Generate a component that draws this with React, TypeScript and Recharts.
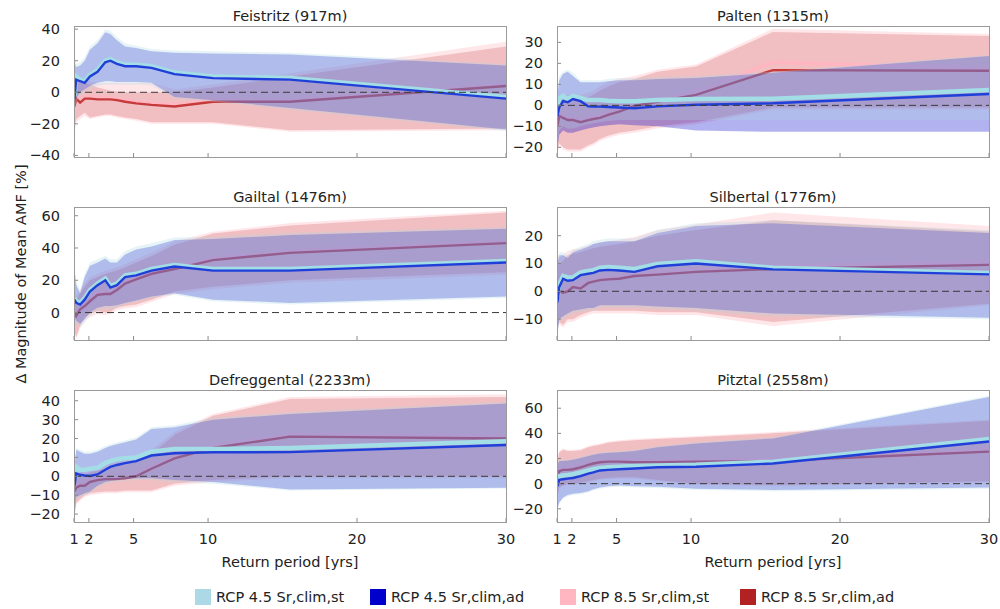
import React from 'react';
import { ComposedChart, Area, Line, XAxis, YAxis, ReferenceLine } from 'recharts';

const FONT = "'DejaVu Sans', sans-serif";

// Return periods (yrs) of the plotted points
const X_VALUES = [1.03, 1.15, 1.41, 1.72, 2.07, 2.58, 3.1, 3.44, 3.88, 4.43, 5.17, 6.2, 7.75, 10.33, 15.5, 30];
const X_TICKS = [1, 2, 5, 10, 20, 30];
const LEGEND_LABELS = ['RCP 4.5 Sr,clim,st', 'RCP 4.5 Sr,clim,ad', 'RCP 8.5 Sr,clim,st', 'RCP 8.5 Sr,clim,ad'];
const SERIES_COLORS = ['#add8e6', '#0000cd', '#ffb6c1', '#b22222'];
const Y_LABEL = 'Δ Magnitude of Mean AMF [%]';
const X_LABEL = 'Return period [yrs]';

// ---------- Feistritz (917m)
const FEI_S45_LO = [-12, -6, -2, 0, 2, 4, 5, 5, 5, 5, 5, 4.5, -4, -6, -11, -24.5];
const FEI_S45_MID = [-2, 10, 8, 7, 11, 14, 20, 21, 19, 17.5, 17.5, 16.5, 12.5, 10, 9, -3];
const FEI_S45_HI = [22, 18, 19, 22, 29, 33, 40, 39, 35, 31, 29.5, 27.5, 26.5, 26, 25, 18];
const FEI_A45_LO = [-10, -4, 0, 2, 4, 6, 7, 7, 6.5, 6.5, 6.5, 6, -3, -5, -10, -23.5];
const FEI_A45_MID = [-4, 8, 7, 6, 10, 13, 19, 20, 18, 16.5, 16.5, 15.5, 11.5, 9, 8, -4];
const FEI_A45_HI = [19, 16, 17, 20, 27, 31, 38, 37, 33, 29, 28, 26, 25, 24.5, 24, 17];
const FEI_S85_LO = [-26, -19, -17, -15, -17, -16, -15, -15, -16, -17, -18, -20, -20, -20, -25, -24];
const FEI_S85_MID = [-8, -3, -5.5, -3, -3, -3.5, -3.5, -4, -4.5, -5, -6, -7, -8, -5, -5, 5];
const FEI_S85_HI = [5, 9, 9, 8, 7, 6, 6, 6, 6, 6, 6, 6, 2, 5, 12, 32];
const FEI_A85_LO = [-24, -17, -15, -13, -16, -15, -14, -14, -15, -16, -17, -19, -19, -19, -24, -23];
const FEI_A85_MID = [-9, -4, -6.5, -4, -4, -4.5, -4.5, -4.5, -5, -6, -7, -8, -9, -6, -6, 4];
const FEI_A85_HI = [3, 7, 7, 6, 5, 3, 2, 1, 0.5, 0, 0, 0, 0, 3, 10, 29];

// ---------- Palten (1315m)
const PAL_S45_LO = [-18, -12, -10, -11, -11, -10, -9, -8.5, -8, -7.5, -7, -7, -7, -7, -7, -7];
const PAL_S45_MID = [0, 3, 4.5, 3, 4.5, 3.5, 2.5, 2.5, 2.5, 2.2, 2, 2, 2.5, 3, 3.2, 7.3];
const PAL_S45_HI = [7, 14, 16, 17, 15.5, 12, 12, 12, 12, 12.5, 13, 13, 13.5, 14, 16, 24];
const PAL_A45_LO = [-20, -14, -12, -13, -13, -12, -11, -10.5, -10, -9.5, -9, -9.5, -10, -12, -12.6, -12.6];
const PAL_A45_MID = [-5, -1, 2, 1.5, 3, 2, -0.5, -0.6, -0.6, -0.8, -1, -1.4, -0.5, 0.3, 1, 5.4];
const PAL_A45_HI = [5, 12, 15, 16, 14, 11, 11, 11, 11, 11.5, 12, 12, 12.5, 13, 15.5, 23.5];
const PAL_S85_LO = [-23, -19, -21, -22, -22, -22, -20, -19, -17, -15.5, -14, -13, -11, -9, -2, -2];
const PAL_S85_MID = [-9, -4, -5, -6, -6, -7, -6, -5.5, -5, -3.5, -2, 0.5, 2.5, 6.5, 20.5, 17.5];
const PAL_S85_HI = [-1, 4, 5, 5, 5, 5, 6, 7, 9, 11, 12.5, 14, 17, 19.5, 36.5, 34];
const PAL_A85_LO = [-22, -18, -20, -21, -21, -21, -19, -18, -16, -14.5, -13, -12, -10, -8, -1, -1];
const PAL_A85_MID = [-10, -5, -6, -7, -7, -8, -7, -6.5, -6, -4.5, -3, -0.3, 1.7, 5, 16.8, 16.5];
const PAL_A85_HI = [-3, 2, 3, 3, 3, 3, 4, 5, 7, 9, 11, 12.5, 16, 18.5, 35, 33];

// ---------- Gailtal (1476m)
const GAI_S45_LO = [-5, -7, -9, -6, -2, 1, 2, 2, 3, 5, 6.5, 9, 11, 7, 5, 9];
const GAI_S45_MID = [9, 7, 6, 9, 14, 18, 21, 16.5, 18, 23, 24, 27, 29.5, 27, 27, 32];
const GAI_S45_HI = [29, 19, 14, 24, 31, 33, 35, 33, 33, 38, 41, 43, 46.5, 47, 49.5, 53];
const GAI_A45_LO = [-3, -5, -7, -4, 0, 3, 4, 4, 4.5, 6, 7.5, 10, 12, 8, 6, 10];
const GAI_A45_MID = [8, 6, 5, 8, 13, 17, 20, 15.5, 17, 22, 23, 26, 28.5, 26, 26, 31];
const GAI_A45_HI = [27, 17, 12, 22, 29, 31, 33.5, 31, 31, 36, 39, 41, 45, 45.5, 48, 52];
const GAI_S85_LO = [-14, -16, -10, -5, -3, -1, -1.5, -1, 1.5, 2.5, 3.5, 6.5, 11.5, 14.5, 18.5, 23.5];
const GAI_S85_MID = [1, -1, 3, 5, 8, 12, 12.5, 12.5, 15, 19, 21.5, 25, 28, 33.5, 38, 44];
const GAI_S85_HI = [12, 10, 14, 18, 22, 24, 26, 27, 28, 30, 33, 37, 44, 50, 55.5, 63];
const GAI_A85_LO = [-12, -15, -8, -3, -1, 1, 0, 0.5, 3, 4, 5, 8, 13, 16, 20, 25];
const GAI_A85_MID = [0, -2, 2, 4, 7, 11, 11.5, 11.5, 14, 18, 20.5, 24, 27, 32.5, 37, 43];
const GAI_A85_HI = [10, 8, 12, 16, 20, 22, 24, 25, 26, 28, 31, 35, 42, 49, 54, 62];

// ---------- Silbertal (1776m)
const SIL_S45_LO = [-16, -11, -10, -9, -8, -7.5, -7, -7, -6, -6, -6, -6, -6.5, -7, -9, -10];
const SIL_S45_MID = [-2, 2.5, 5.5, 5, 5, 6.8, 7.3, 7.6, 8.5, 8.7, 8.5, 8, 9.8, 10.8, 8.5, 6.6];
const SIL_S45_HI = [11, 14, 14, 13, 15, 16, 17, 18, 18.5, 19, 19, 19, 22, 24.5, 25.5, 22];
const SIL_A45_LO = [-15, -10, -9, -8, -7, -6.5, -6, -6, -5, -5, -5, -5, -5.5, -6, -8, -9.5];
const SIL_A45_MID = [-4, 1.5, 4.5, 3.8, 4, 5.8, 6.3, 6.6, 7.5, 7.7, 7.5, 7, 9, 10, 7.9, 6.1];
const SIL_A45_HI = [10, 13, 13, 12, 14, 15, 16, 17, 17.5, 18, 18, 18, 21, 23.5, 24.5, 21];
const SIL_S85_LO = [-14, -12, -13, -11, -11, -9.5, -8.5, -8, -8, -8, -8, -8, -8.5, -8.5, -12.5, -5];
const SIL_S85_MID = [0, 1, 0.5, 1, 2.5, 2, 4, 4.5, 5, 5.3, 5.5, 6.5, 7, 8, 9, 10.5];
const SIL_S85_HI = [14, 12, 13, 14.5, 15, 15.5, 16.5, 17, 17.5, 18, 18.5, 19.5, 22, 24, 28.3, 23.5];
const SIL_A85_LO = [-13, -11, -12, -10, -10, -8.5, -7.5, -7, -7, -7, -7, -7, -7.5, -7.5, -11, -4.5];
const SIL_A85_MID = [-1, 0, -0.5, 0, 1.5, 1, 3, 3.5, 4, 4.3, 4.5, 5.5, 6, 7, 8, 9.5];
const SIL_A85_HI = [12, 10, 11, 13, 13.5, 14, 15, 15.5, 16, 16.5, 17, 18, 20, 22, 25.5, 21.5];

// ---------- Defreggental (2233m)
const DEF_S45_LO = [-21, -12, -11, -10, -9, -6, -4, -3.5, -3, -2.5, -2, -2, -3, -4, -7.5, -6.5];
const DEF_S45_MID = [0, 5, 3.5, 3.5, 4, 4.5, 7, 8, 9, 9.5, 10, 13, 14.5, 14.5, 15, 18.5];
const DEF_S45_HI = [7, 15, 14, 13, 13, 14, 16, 17, 18, 19, 20.5, 26, 27, 31, 34, 39.5];
const DEF_A45_LO = [-20, -11, -10, -9, -8, -5, -3, -2.5, -2, -1.5, -1, -1, -2, -3, -7, -6];
const DEF_A45_MID = [-5, 1.5, 0.8, 0.4, 0.2, 1, 3.5, 5, 6, 7, 8, 11, 12.2, 12.7, 12.8, 16.6];
const DEF_A45_HI = [5, 14, 13, 12, 12, 13, 15, 16, 17, 18, 19.5, 25, 26, 30, 33, 38.5];
const DEF_S85_LO = [-22, -15, -13, -11, -10, -9.5, -9, -9, -9, -8.5, -8.5, -8.5, -5, -3, -1, -1];
const DEF_S85_MID = [-7, -5, -4, -4, -2, -1, -0.5, -0.5, -0.5, 0, 1, 5, 10.5, 16, 22, 21];
const DEF_S85_HI = [2, 0, 2, 3, 4, 5, 6, 7, 8, 9, 10, 14, 23.5, 33, 42, 43.5];
const DEF_A85_LO = [-21, -14, -12, -10, -9, -8.5, -8, -8, -8, -7.5, -7.5, -7.5, -4, -2, 0, 0];
const DEF_A85_MID = [-8, -6, -5, -5, -3, -2, -1.5, -1.5, -1.5, -1, 0, 4, 9.5, 15, 21, 20];
const DEF_A85_HI = [0, -2, 0, 1, 2, 3, 4, 5, 6, 7, 8, 12, 22, 32, 41, 42];

// ---------- Pitztal (2558m)
const PIT_S45_LO = [-21, -16, -12, -10, -9, -8.5, -7, -5.5, -4, -3, -2.5, -3, -3.5, -5, -6, -4];
const PIT_S45_MID = [1, 6, 6.5, 7, 7.5, 9, 10.5, 11.5, 12.5, 13, 13.5, 14, 14.5, 15, 17.5, 35.5];
const PIT_S45_HI = [16, 19, 19, 19.5, 20, 21.5, 23, 24, 25, 25.5, 26, 27, 30, 33, 37, 70];
const PIT_A45_LO = [-20, -15, -11, -9, -8, -7.5, -6, -4.5, -3, -2, -1.5, -2, -2.5, -4, -5, -3];
const PIT_A45_MID = [-2, 3, 3.5, 4, 4.5, 6, 8, 9, 10.5, 11, 11.5, 12, 13, 13.5, 16, 33.5];
const PIT_A45_HI = [15, 18, 18, 18.5, 19, 20.5, 22, 23, 24, 24.5, 25, 26, 29, 32, 36, 69];
const PIT_S85_LO = [-11, -4, -2, -1, -1, 0, 1, 2, 3, 3.5, 4, 4, 2, -1, -2, 1];
const PIT_S85_MID = [1, 11, 12, 12, 12.5, 14, 16, 17, 18, 18.5, 18.5, 18, 18, 18.5, 19, 26.5];
const PIT_S85_HI = [20, 26, 28, 27, 27, 27.5, 30, 31, 32, 33.5, 34.5, 35.5, 36.5, 38, 41, 51];
const PIT_A85_LO = [-10, -3, -1, 0, 0, 1, 2, 3, 4, 4.5, 5, 5, 3, 0, -1, 2];
const PIT_A85_MID = [0, 10, 11, 11, 11.5, 13, 15, 16, 17, 17.5, 17.5, 17, 17, 17.5, 18, 25.5];
const PIT_A85_HI = [18, 25, 27, 26, 26, 26.5, 29, 30, 31, 32.5, 33.5, 34.5, 35.5, 37, 40, 50];

type Triple = [number[], number[], number[]];
type PanelDef = {
  title: string;
  left: number;
  top: number;
  h: number;
  domain: [number, number];
  ticks: number[];
  bottom: boolean;
  s45: Triple;
  a45: Triple;
  s85: Triple;
  a85: Triple;
};

const PANELS: PanelDef[] = [
  {
    title: 'Feistritz (917m)', left: 74, top: 26, h: 131, domain: [-41, 42], ticks: [-40, -20, 0, 20, 40], bottom: false,
    s45: [FEI_S45_LO, FEI_S45_MID, FEI_S45_HI], a45: [FEI_A45_LO, FEI_A45_MID, FEI_A45_HI],
    s85: [FEI_S85_LO, FEI_S85_MID, FEI_S85_HI], a85: [FEI_A85_LO, FEI_A85_MID, FEI_A85_HI],
  },
  {
    title: 'Palten (1315m)', left: 557, top: 26, h: 131, domain: [-24.6, 37.8], ticks: [-20, -10, 0, 10, 20, 30], bottom: false,
    s45: [PAL_S45_LO, PAL_S45_MID, PAL_S45_HI], a45: [PAL_A45_LO, PAL_A45_MID, PAL_A45_HI],
    s85: [PAL_S85_LO, PAL_S85_MID, PAL_S85_HI], a85: [PAL_A85_LO, PAL_A85_MID, PAL_A85_HI],
  },
  {
    title: 'Gailtal (1476m)', left: 74, top: 207, h: 133, domain: [-17, 65.4], ticks: [0, 20, 40, 60], bottom: false,
    s45: [GAI_S45_LO, GAI_S45_MID, GAI_S45_HI], a45: [GAI_A45_LO, GAI_A45_MID, GAI_A45_HI],
    s85: [GAI_S85_LO, GAI_S85_MID, GAI_S85_HI], a85: [GAI_A85_LO, GAI_A85_MID, GAI_A85_HI],
  },
  {
    title: 'Silbertal (1776m)', left: 557, top: 207, h: 133, domain: [-17.5, 30.3], ticks: [-10, 0, 10, 20], bottom: false,
    s45: [SIL_S45_LO, SIL_S45_MID, SIL_S45_HI], a45: [SIL_A45_LO, SIL_A45_MID, SIL_A45_HI],
    s85: [SIL_S85_LO, SIL_S85_MID, SIL_S85_HI], a85: [SIL_A85_LO, SIL_A85_MID, SIL_A85_HI],
  },
  {
    title: 'Defreggental (2233m)', left: 74, top: 390, h: 132, domain: [-24.2, 45.7], ticks: [-20, -10, 0, 10, 20, 30, 40], bottom: true,
    s45: [DEF_S45_LO, DEF_S45_MID, DEF_S45_HI], a45: [DEF_A45_LO, DEF_A45_MID, DEF_A45_HI],
    s85: [DEF_S85_LO, DEF_S85_MID, DEF_S85_HI], a85: [DEF_A85_LO, DEF_A85_MID, DEF_A85_HI],
  },
  {
    title: 'Pitztal (2558m)', left: 557, top: 390, h: 132, domain: [-30.5, 74.5], ticks: [-20, 0, 20, 40, 60], bottom: true,
    s45: [PIT_S45_LO, PIT_S45_MID, PIT_S45_HI], a45: [PIT_A45_LO, PIT_A45_MID, PIT_A45_HI],
    s85: [PIT_S85_LO, PIT_S85_MID, PIT_S85_HI], a85: [PIT_A85_LO, PIT_A85_MID, PIT_A85_HI],
  },
];

const PLOT_W = 432;
const AXIS_W = 45;
const TEXT_COLOR = '#222';
const TICK_COLOR = '#8a8a8a';
const FS = 14.5;

const XTick = (props: any) => {
  const { x, y, payload, show } = props;
  return (
    <g>
      <line x1={x} x2={x} y1={y} y2={y - 4} stroke={TICK_COLOR} strokeWidth={1} />
      {show ? (
        <text x={x} y={y + 22} textAnchor="middle" fontSize={FS} fill={TEXT_COLOR} fontFamily={FONT}>
          {payload.value}
        </text>
      ) : null}
    </g>
  );
};

const YTick = (props: any) => {
  const { x, y, payload } = props;
  const v = payload.value;
  const label = v < 0 ? '\u2212' + Math.abs(v) : String(v);
  return (
    <g>
      <line x1={x} x2={x + 4} y1={y} y2={y} stroke={TICK_COLOR} strokeWidth={1} />
      <text x={x - 14} y={y + 5} textAnchor="end" fontSize={FS} fill={TEXT_COLOR} fontFamily={FONT}>
        {label}
      </text>
    </g>
  );
};

function Panel({ p }: { p: PanelDef }) {
  const data = X_VALUES.map((x, i) => ({
    x,
    s45: [p.s45[0][i], p.s45[2][i]],
    a45: [p.a45[0][i], p.a45[2][i]],
    s85: [p.s85[0][i], p.s85[2][i]],
    a85: [p.a85[0][i], p.a85[2][i]],
    s45m: p.s45[1][i],
    a45m: p.a45[1][i],
    s85m: p.s85[1][i],
    a85m: p.a85[1][i],
  }));
  const xAxisH = p.bottom ? 40 : 1;
  const W = AXIS_W + PLOT_W + 8;
  const H = p.h + xAxisH;
  return (
    <>
      <div style={{ position: 'absolute', left: p.left - AXIS_W, top: p.top, width: W, height: H }}>
        <ComposedChart width={W} height={H} data={data} margin={{ top: 0, right: 8, bottom: 0, left: 0 }}>
          <XAxis
            dataKey="x"
            type="number"
            domain={[1, 30]}
            allowDataOverflow
            ticks={X_TICKS}
            interval={0}
            height={xAxisH}
            axisLine={false}
            tickLine={false}
            tickSize={0}
            tickMargin={0}
            tick={(props: any) => <XTick {...props} show={p.bottom} />}
          />
          <YAxis
            type="number"
            domain={p.domain}
            allowDataOverflow
            ticks={p.ticks}
            interval={0}
            width={AXIS_W}
            axisLine={false}
            tickLine={false}
            tickSize={0}
            tickMargin={0}
            tick={(props: any) => <YTick {...props} />}
          />
          <Area type="linear" dataKey="a85" stroke="none" fill="#b22222" fillOpacity={0.27} isAnimationActive={false} activeDot={false} zIndex={100} />
          <Area type="linear" dataKey="s85" stroke="none" fill="#ffb6c1" fillOpacity={0.35} isAnimationActive={false} activeDot={false} zIndex={101} />
          <Line type="linear" dataKey="s85m" stroke="#ffb6c1" strokeWidth={4} dot={false} activeDot={false} isAnimationActive={false} zIndex={102} />
          <Line type="linear" dataKey="a85m" stroke="#c53b3b" strokeWidth={2.4} dot={false} activeDot={false} isAnimationActive={false} zIndex={103} />
          <Area type="linear" dataKey="a45" stroke="none" fill="#0000cd" fillOpacity={0.3} isAnimationActive={false} activeDot={false} zIndex={104} />
          <Area type="linear" dataKey="s45" stroke="none" fill="#add8e6" fillOpacity={0.3} isAnimationActive={false} activeDot={false} zIndex={105} />
          <Line type="linear" dataKey="s45m" stroke="#a3dde6" strokeWidth={4.5} dot={false} activeDot={false} isAnimationActive={false} zIndex={106} />
          <Line type="linear" dataKey="a45m" stroke="#1f3fd8" strokeWidth={2.4} dot={false} activeDot={false} isAnimationActive={false} zIndex={107} />
          <ReferenceLine y={0} stroke="#3a3a3a" strokeWidth={1} strokeDasharray="7 4" zIndex={108} />
        </ComposedChart>
      </div>
      <div
        style={{
          position: 'absolute',
          left: p.left,
          top: p.top,
          width: PLOT_W + 1,
          height: p.h + 1,
          border: '1px solid #9a9a9a',
          boxSizing: 'border-box',
          pointerEvents: 'none',
        }}
      />
      <div
        style={{
          position: 'absolute',
          left: p.left,
          top: p.top - 19,
          width: PLOT_W,
          textAlign: 'center',
          fontSize: FS,
          lineHeight: '18px',
          color: TEXT_COLOR,
          fontFamily: FONT,
          whiteSpace: 'nowrap',
        }}
      >
        {p.title}
      </div>
      {p.bottom ? (
        <div
          style={{
            position: 'absolute',
            left: p.left,
            top: 553,
            width: PLOT_W,
            textAlign: 'center',
            fontSize: FS,
            lineHeight: '18px',
            color: TEXT_COLOR,
            fontFamily: FONT,
            whiteSpace: 'nowrap',
          }}
        >
          {X_LABEL}
        </div>
      ) : null}
    </>
  );
}

const LEGEND_SQUARE_X = [195, 370, 560, 740];

export default function App() {
  return (
    <div
      style={{
        position: 'absolute',
        left: 0,
        top: 0,
        width: 1000,
        height: 609,
        background: '#fff',
        overflow: 'hidden',
        fontFamily: FONT,
      }}
    >
      <style>{'.recharts-surface{overflow:visible}.recharts-wrapper{overflow:visible}'}</style>
      {PANELS.map((p) => (
        <Panel key={p.title} p={p} />
      ))}
      <div
        style={{
          position: 'absolute',
          left: 21 - 160,
          top: 274 - 9,
          width: 320,
          height: 18,
          lineHeight: '18px',
          textAlign: 'center',
          transform: 'rotate(-90deg)',
          fontSize: FS,
          color: TEXT_COLOR,
          whiteSpace: 'nowrap',
        }}
      >
        {Y_LABEL}
      </div>
      {LEGEND_LABELS.map((lab, i) => (
        <React.Fragment key={lab}>
          <div
            style={{
              position: 'absolute',
              left: LEGEND_SQUARE_X[i],
              top: 589,
              width: 16,
              height: 16,
              background: SERIES_COLORS[i],
            }}
          />
          <div
            style={{
              position: 'absolute',
              left: LEGEND_SQUARE_X[i] + 21,
              top: 588,
              lineHeight: '18px',
              fontSize: FS,
              color: TEXT_COLOR,
              whiteSpace: 'nowrap',
            }}
          >
            {lab}
          </div>
        </React.Fragment>
      ))}
    </div>
  );
}
